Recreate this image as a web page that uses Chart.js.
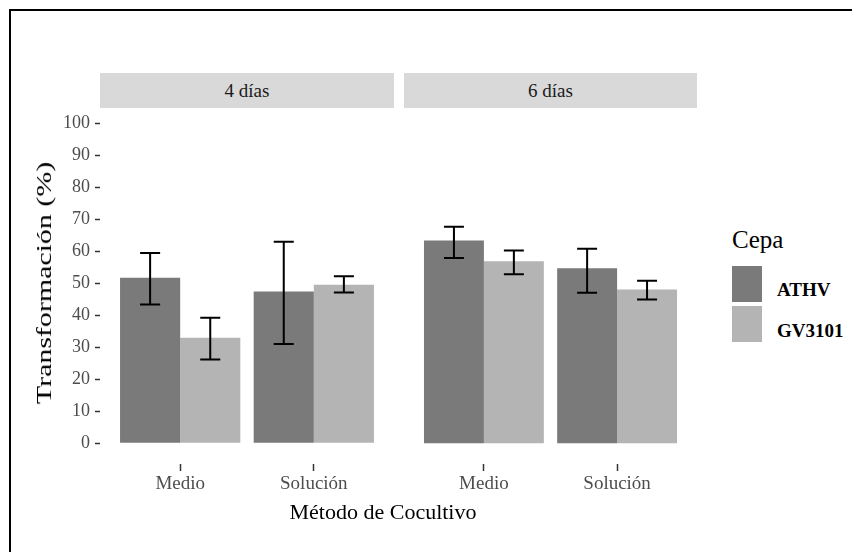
<!DOCTYPE html>
<html lang="es">
<head>
<meta charset="utf-8">
<title>Transformación por método de cocultivo</title>
<script src="https://cdn.jsdelivr.net/npm/chart.js@4/dist/chart.umd.min.js"></script>
<style>
  html, body { margin: 0; padding: 0; background: #fff; }
  body { width: 852px; height: 552px; position: relative; overflow: hidden; font-family: "Liberation Serif", "DejaVu Serif", serif; }
  .frame { position: absolute; left: 9px; top: 9px; right: -10px; bottom: -10px; border-left: 2px solid #000; border-top: 2px solid #000; }
  canvas { position: absolute; top: 0; }
  .strip { position: absolute; top: 73px; height: 35px; background: #d9d9d9; color: #1a1a1a; font-size: 19px; line-height: 35px; text-align: center; }
  .ytitle { position: absolute; left: 44px; top: 283px; font-size: 22px; line-height: 22px; white-space: nowrap; color: #000;
            transform: translate(-50%, -50%) rotate(-90deg) scaleX(1.36); }
  .xtitle { position: absolute; left: 383px; top: 501px; font-size: 22px; line-height: 22px; white-space: nowrap; color: #000; transform: translateX(-50%); }
  .legtitle { position: absolute; left: 732px; top: 227px; font-size: 25px; line-height: 25px; color: #000; }
  .key { position: absolute; left: 732px; width: 30px; height: 36px; }
  .leglabel { position: absolute; left: 777px; font-size: 19px; line-height: 19px; font-weight: bold; color: #000; }
</style>
</head>
<body>
<div class="frame"></div>

<canvas id="panel4" width="400" height="552" style="left:0px"></canvas>
<canvas id="panel6" width="300" height="552" style="left:404px"></canvas>

<div class="strip" id="strip4" style="left:100px; width:294px;"></div>
<div class="strip" id="strip6" style="left:404px; width:293px;"></div>

<div class="ytitle">Transformación (%)</div>
<div class="xtitle">Método de Cocultivo</div>

<div class="legtitle">Cepa</div>
<div class="key" style="top:266px; background:#7a7a7a;"></div>
<div class="key" style="top:306px; background:#b4b4b4;"></div>
<div class="leglabel" id="lab0" style="top:280px;"></div>
<div class="leglabel" id="lab1" style="top:321px;"></div>

<script>
// Categories and labels
const methods = ['Medio', 'Solución'];
const panels = ['4 días', '6 días'];
const strains = ['ATHV', 'GV3101'];
const yTicks = [0, 10, 20, 30, 40, 50, 60, 70, 80, 90, 100];

// Mean transformation (%) per method, 4 days
const athv4 = [51.7, 47.4];
const gv4 = [32.9, 49.5];
// Mean transformation (%) per method, 6 days
const athv6 = [63.3, 54.6];
const gv6 = [56.8, 48.0];

// Error bar limits (lower / upper)
const athv4Lo = [43.3, 31.0];
const athv4Hi = [59.4, 62.9];
const gv4Lo = [26.1, 47.1];
const gv4Hi = [39.2, 52.1];
const athv6Lo = [57.8, 47.0];
const athv6Hi = [67.6, 60.7];
const gv6Lo = [52.8, 44.9];
const gv6Hi = [60.2, 50.7];

const DARK = '#7a7a7a';
const LIGHT = '#b4b4b4';

document.getElementById('strip4').textContent = panels[0];
document.getElementById('strip6').textContent = panels[1];
document.getElementById('lab0').textContent = strains[0];
document.getElementById('lab1').textContent = strains[1];

Chart.defaults.font.family = '"Liberation Serif", serif';

// Draws vertical error bars with caps on top of each bar
const errorBars = {
  id: 'errorBars',
  afterDatasetsDraw(chart) {
    const ctx = chart.ctx;
    const y = chart.scales.y;
    chart.data.datasets.forEach((ds, di) => {
      const meta = chart.getDatasetMeta(di);
      meta.data.forEach((bar, i) => {
        const lo = y.getPixelForValue(ds.errLo[i]);
        const hi = y.getPixelForValue(ds.errHi[i]);
        const cx = bar.x;
        const hw = bar.width / 6;
        ctx.save();
        ctx.strokeStyle = '#000';
        ctx.lineWidth = 2;
        ctx.beginPath();
        ctx.moveTo(cx, hi); ctx.lineTo(cx, lo);
        ctx.moveTo(cx - hw, hi); ctx.lineTo(cx + hw, hi);
        ctx.moveTo(cx - hw, lo); ctx.lineTo(cx + hw, lo);
        ctx.stroke();
        ctx.restore();
      });
    });
  }
};

function toPoints(vals) {
  return vals.map((v, i) => ({ x: i + 1, y: v }));
}

function makePanel(id, athv, gv, aLo, aHi, gLo, gHi, showY, padRight) {
  return new Chart(document.getElementById(id), {
    type: 'bar',
    data: {
      datasets: [
        { label: strains[0], data: toPoints(athv), backgroundColor: DARK, borderWidth: 0, errLo: aLo, errHi: aHi },
        { label: strains[1], data: toPoints(gv), backgroundColor: LIGHT, borderWidth: 0, errLo: gLo, errHi: gHi }
      ]
    },
    options: {
      responsive: false,
      animation: false,
      devicePixelRatio: 1,
      layout: { padding: { left: 0, right: padRight, top: 107, bottom: 0 } },
      datasets: { bar: { categoryPercentage: 0.9, barPercentage: 1.0, grouped: true } },
      plugins: { legend: { display: false }, tooltip: { enabled: false } },
      scales: {
        x: {
          type: 'linear',
          min: 0.4,
          max: 2.6,
          offset: false,
          afterBuildTicks: (ax) => { ax.ticks = methods.map((m, i) => ({ value: i + 1 })); },
          afterFit: (ax) => { ax.height = 88; },
          ticks: {
            autoSkip: false,
            maxRotation: 0,
            padding: 2,
            color: '#4d4d4d',
            font: { size: 19 },
            callback: (v, i) => methods[i]
          },
          grid: { offset: false, drawOnChartArea: false, drawTicks: true, tickLength: 7, tickColor: '#333', tickWidth: 1.5 },
          border: { display: false }
        },
        y: {
          display: showY,
          min: -6.5,
          max: 105,
          afterBuildTicks: (ax) => { ax.ticks = yTicks.map(v => ({ value: v })); },
          afterFit: (ax) => { if (showY) ax.width = 100; },
          ticks: { padding: 5, color: '#4d4d4d', font: { size: 18 }, callback: (v) => String(v) },
          grid: { drawOnChartArea: false, drawTicks: true, tickLength: 5, tickColor: '#333', tickWidth: 1.5 },
          border: { display: false }
        }
      }
    },
    plugins: [errorBars]
  });
}

makePanel('panel4', athv4, gv4, athv4Lo, athv4Hi, gv4Lo, gv4Hi, true, 6);
makePanel('panel6', athv6, gv6, athv6Lo, athv6Hi, gv6Lo, gv6Hi, false, 7);
</script>
</body>
</html>
